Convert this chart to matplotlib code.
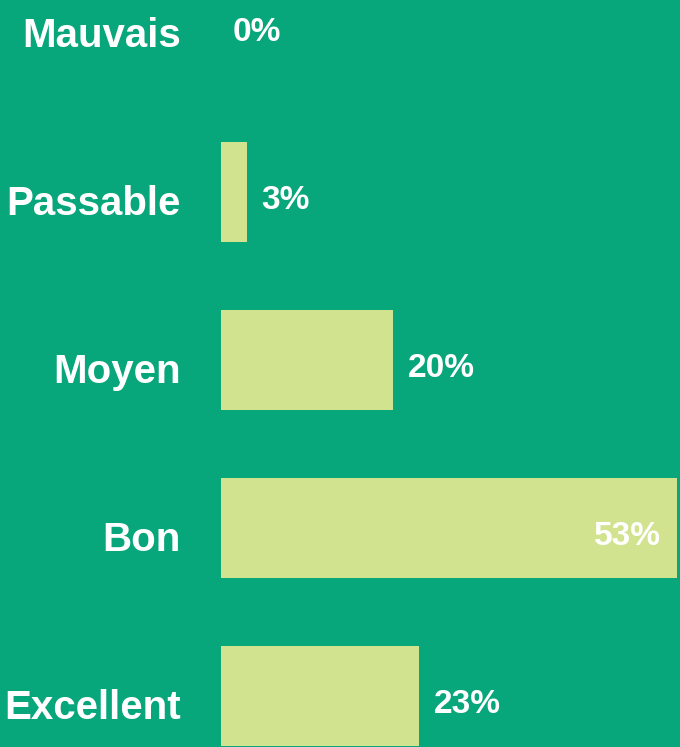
import matplotlib.pyplot as plt
from matplotlib.transforms import ScaledTranslation

categories = ['Mauvais', 'Passable', 'Moyen', 'Bon', 'Excellent']
values = [0, 3, 20, 53, 23]
labels = ['0%', '3%', '20%', '53%', '23%']

bg = '#08A67B'
bar_color = '#D1E38F'

fig = plt.figure(figsize=(6.8, 7.47), dpi=100, facecolor=bg)
ax = fig.add_axes([221 / 680, 0, 459 / 680, 1], facecolor=bg)

pos = list(range(len(categories)))
ax.barh(pos, values, height=0.6, color=bar_color, edgecolor='none')

ax.set_xlim(0, 53.3)
ax.set_ylim(4.304, -0.143)

ax.set_yticks(pos)
ax.set_yticklabels(categories, fontsize=29, fontweight='bold', color='white',
                   family='Liberation Sans')
ax.tick_params(axis='y', length=0, pad=29)
ax.set_xticks([])
for s in ax.spines.values():
    s.set_visible(False)

# nudge category names down a little
shift = ScaledTranslation(0, -0.08, fig.dpi_scale_trans)
for t in ax.get_yticklabels():
    t.set_transform(t.get_transform() + shift)

# value labels, the biggest one sits inside its bar
for i, (v, lab) in enumerate(zip(values, labels)):
    if v == max(values):
        ax.annotate(lab, (v, i), xytext=(-12, -6), textcoords='offset points',
                    ha='right', va='center', fontsize=24, fontweight='bold',
                    color='white', family='Liberation Sans')
    else:
        ax.annotate(lab, (v, i), xytext=(10.5 if v > 0 else 8.5, -6), textcoords='offset points',
                    ha='left', va='center', fontsize=24, fontweight='bold',
                    color='white', family='Liberation Sans')

fig.savefig('out.png', dpi=100, facecolor=bg)
